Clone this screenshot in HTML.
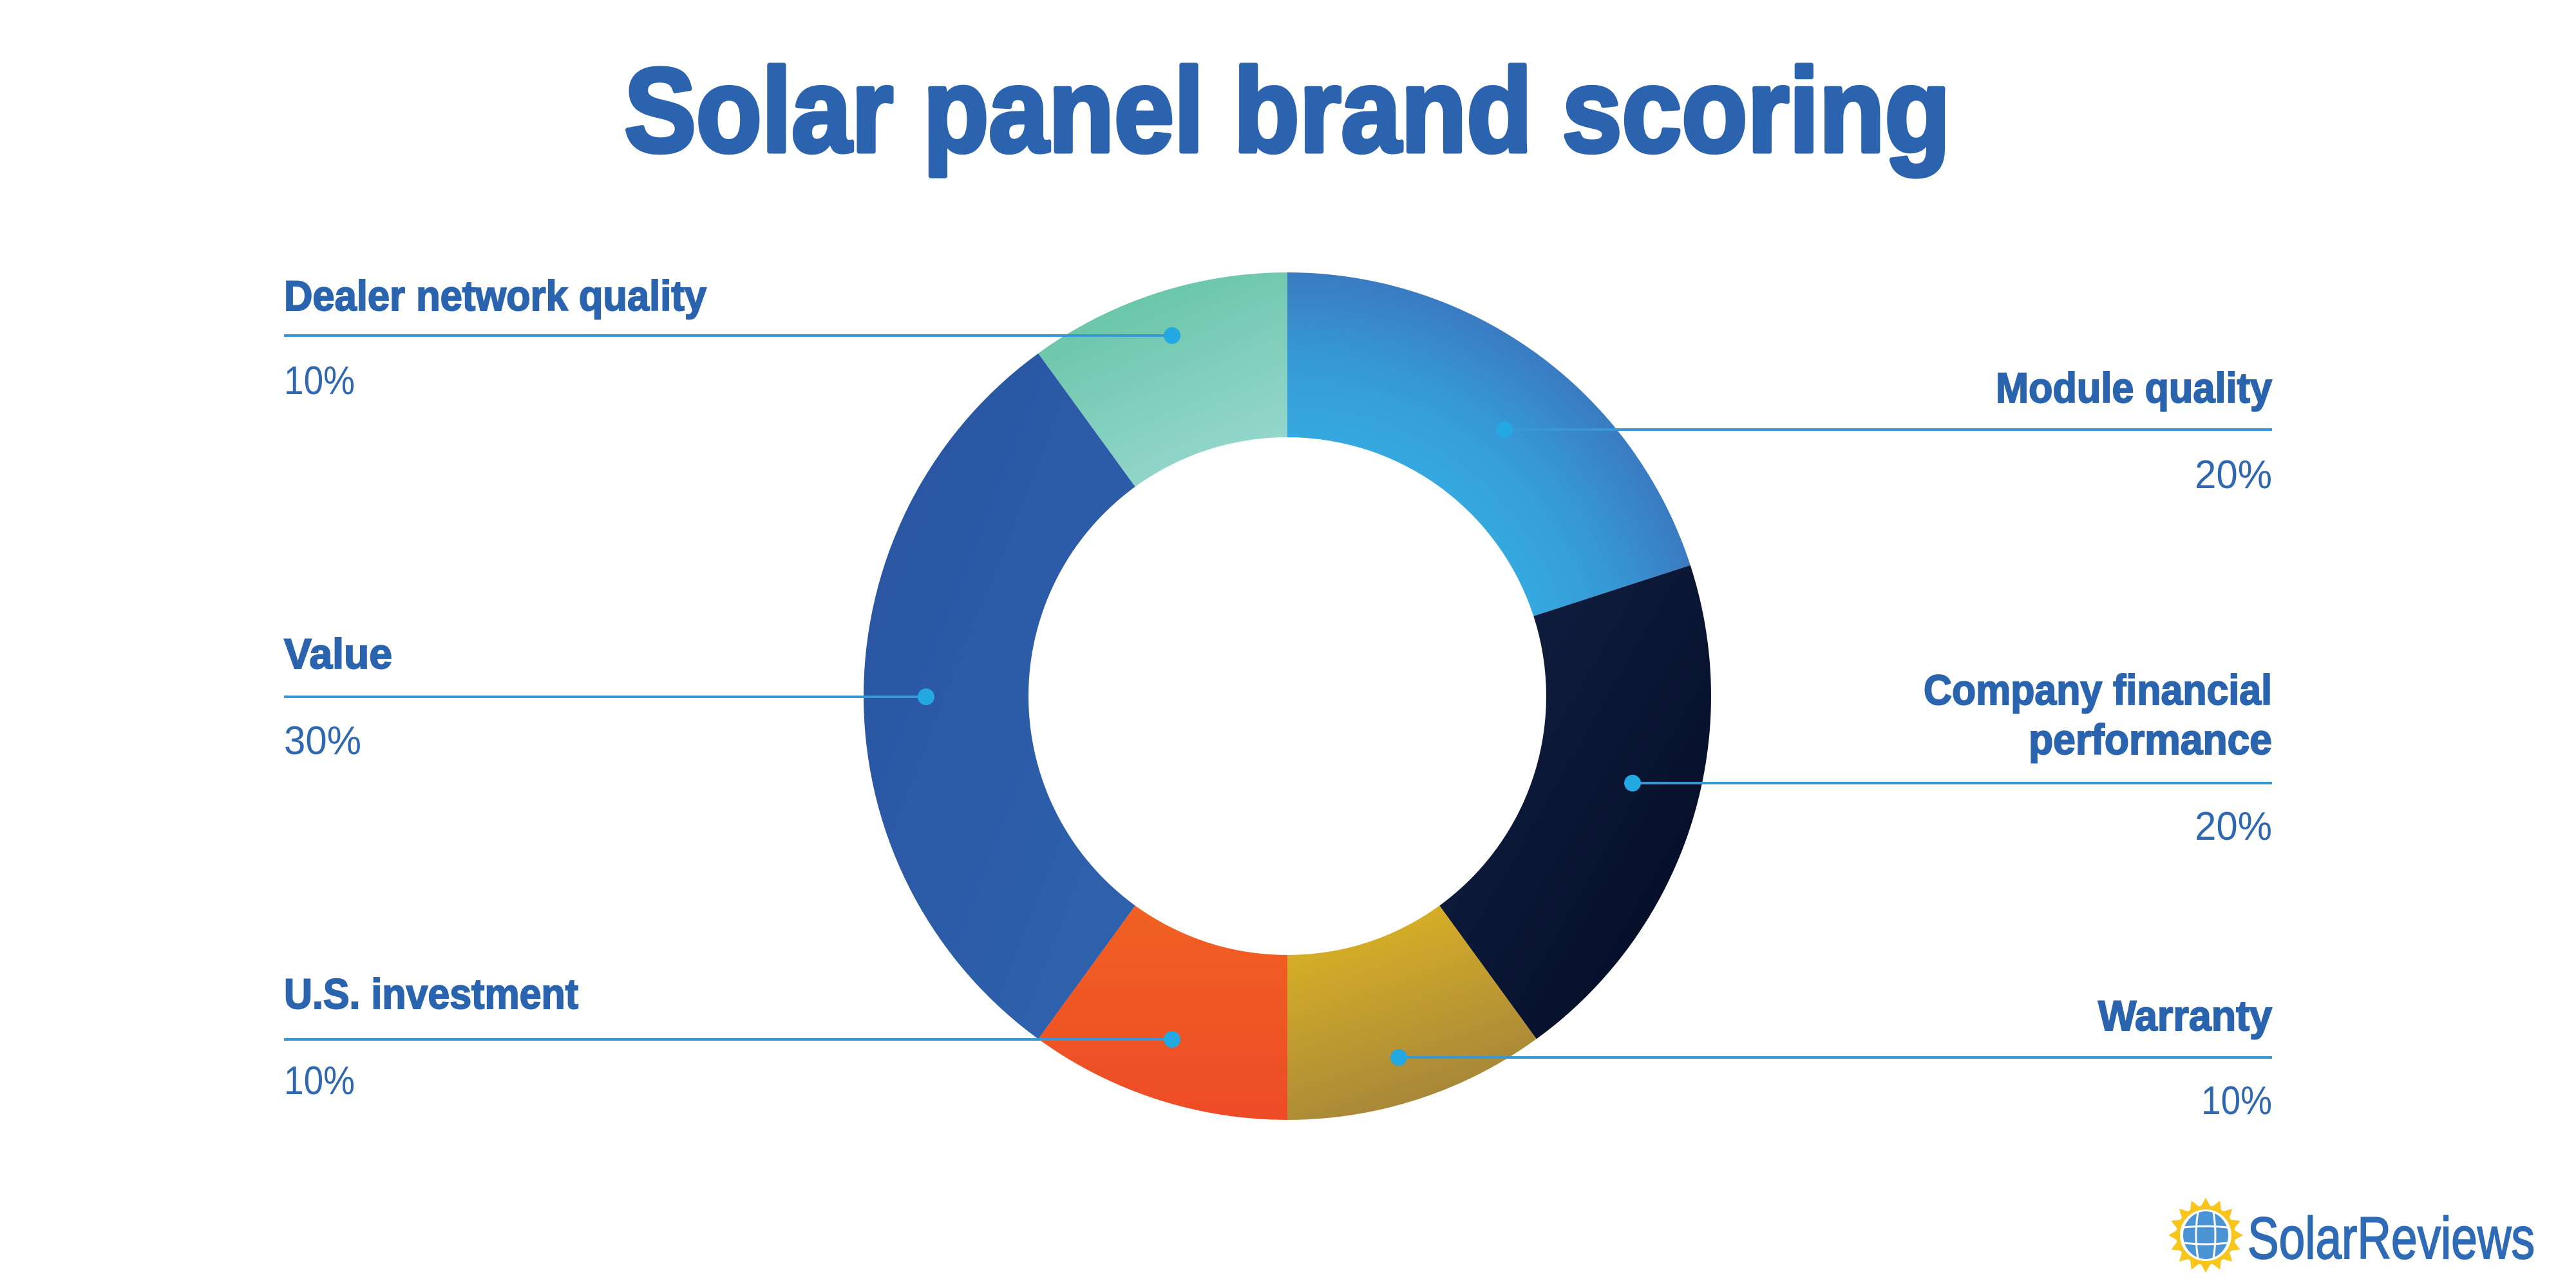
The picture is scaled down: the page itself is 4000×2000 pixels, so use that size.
<!DOCTYPE html>
<html><head><meta charset="utf-8"><style>html,body{margin:0;padding:0;background:#fff}svg{display:block}</style></head>
<body>
<svg width="4000" height="2000" viewBox="0 0 4000 2000" xmlns="http://www.w3.org/2000/svg">
<defs>
<radialGradient id="gM" cx="1999" cy="1081" r="658" gradientUnits="userSpaceOnUse"><stop offset="0.6" stop-color="#35aae0"/><stop offset="0.8" stop-color="#3699d6"/><stop offset="1" stop-color="#3a7bc2"/></radialGradient>
<linearGradient id="gC" x1="0" y1="0" x2="1" y2="1"><stop offset="0" stop-color="#132246"/><stop offset="1" stop-color="#020a22"/></linearGradient>
<linearGradient id="gW" x1="0" y1="0" x2="0.4" y2="1"><stop offset="0" stop-color="#e2b822"/><stop offset="1" stop-color="#a6863a"/></linearGradient>
<linearGradient id="gU" x1="0" y1="0" x2="0" y2="1"><stop offset="0" stop-color="#f06124"/><stop offset="1" stop-color="#ee4b26"/></linearGradient>
<linearGradient id="gV" x1="0" y1="0" x2="1" y2="1"><stop offset="0" stop-color="#2953a1"/><stop offset="1" stop-color="#2f63ae"/></linearGradient>
<linearGradient id="gD" x1="0" y1="0" x2="0.5" y2="1"><stop offset="0" stop-color="#5dc19e"/><stop offset="1" stop-color="#94d6cc"/></linearGradient>
</defs>

<text x="1999" y="235" text-anchor="middle" font-family="Liberation Sans, sans-serif" font-weight="bold" font-size="185" fill="#2c63ae" stroke="#2c63ae" stroke-width="7" stroke-linejoin="round" textLength="2059" lengthAdjust="spacingAndGlyphs">Solar panel brand scoring</text>

<path d="M1999,423 A658,658 0 0 1 2624.8,877.7 L2381.3,956.8 A402,402 0 0 0 1999,679 Z" fill="url(#gM)"/>
<path d="M2624.8,877.7 A658,658 0 0 1 2385.8,1613.3 L2235.3,1406.2 A402,402 0 0 0 2381.3,956.8 Z" fill="url(#gC)"/>
<path d="M2385.8,1613.3 A658,658 0 0 1 1999,1739 L1999,1483 A402,402 0 0 0 2235.3,1406.2 Z" fill="url(#gW)"/>
<path d="M1999,1739 A658,658 0 0 1 1612.2,1613.3 L1762.7,1406.2 A402,402 0 0 0 1999,1483 Z" fill="url(#gU)"/>
<path d="M1612.2,1613.3 A658,658 0 0 1 1612.2,548.7 L1762.7,755.8 A402,402 0 0 0 1762.7,1406.2 Z" fill="url(#gV)"/>
<path d="M1612.2,548.7 A658,658 0 0 1 1999,423 L1999,679 A402,402 0 0 0 1762.7,755.8 Z" fill="url(#gD)"/>

<g stroke="#3798d5" stroke-width="4">
<line x1="441" y1="521" x2="1820" y2="521"/>
<line x1="441" y1="1082" x2="1438" y2="1082"/>
<line x1="441" y1="1614" x2="1820" y2="1614"/>
<line x1="2336" y1="667" x2="3528" y2="667"/>
<line x1="2535" y1="1216" x2="3528" y2="1216"/>
<line x1="2172" y1="1642" x2="3528" y2="1642"/>
</g>
<g fill="#24a8e2">
<circle cx="1820" cy="521" r="13"/><circle cx="1438" cy="1082" r="13"/><circle cx="1820" cy="1614" r="13"/>
<circle cx="2336" cy="667" r="13"/><circle cx="2535" cy="1216" r="13"/><circle cx="2172" cy="1642" r="13"/>
</g>

<g font-family="Liberation Sans, sans-serif" font-weight="bold" font-size="66" fill="#2b64ae" stroke="#2b64ae" stroke-width="2">
<text x="441" y="482" textLength="656" lengthAdjust="spacingAndGlyphs">Dealer network quality</text>
<text x="441" y="1038" textLength="168" lengthAdjust="spacingAndGlyphs">Value</text>
<text x="441" y="1566" textLength="457" lengthAdjust="spacingAndGlyphs">U.S. investment</text>
<text x="3099" y="625" textLength="429" lengthAdjust="spacingAndGlyphs">Module quality</text>
<text x="2987" y="1094" textLength="541" lengthAdjust="spacingAndGlyphs">Company financial</text>
<text x="3150" y="1171" textLength="378" lengthAdjust="spacingAndGlyphs">performance</text>
<text x="3258" y="1600" textLength="270" lengthAdjust="spacingAndGlyphs">Warranty</text>
</g>
<g font-family="Liberation Sans, sans-serif" font-size="62" fill="#2f68b0">
<text x="441" y="612" textLength="110" lengthAdjust="spacingAndGlyphs">10%</text>
<text x="441" y="1171" textLength="120" lengthAdjust="spacingAndGlyphs">30%</text>
<text x="441" y="1699" textLength="110" lengthAdjust="spacingAndGlyphs">10%</text>
<text x="3408" y="758" textLength="120" lengthAdjust="spacingAndGlyphs">20%</text>
<text x="3408" y="1304" textLength="120" lengthAdjust="spacingAndGlyphs">20%</text>
<text x="3418" y="1730" textLength="110" lengthAdjust="spacingAndGlyphs">10%</text>
</g>

<g transform="translate(3425,1918)">
<g fill="#f7c51c">
<circle r="46"/>
<g id="ray"><polygon points="-9,-42 9,-42 0,-58"/></g>
<use href="#ray" transform="rotate(22.5)"/><use href="#ray" transform="rotate(45)"/><use href="#ray" transform="rotate(67.5)"/>
<use href="#ray" transform="rotate(90)"/><use href="#ray" transform="rotate(112.5)"/><use href="#ray" transform="rotate(135)"/>
<use href="#ray" transform="rotate(157.5)"/><use href="#ray" transform="rotate(180)"/><use href="#ray" transform="rotate(202.5)"/>
<use href="#ray" transform="rotate(225)"/><use href="#ray" transform="rotate(247.5)"/><use href="#ray" transform="rotate(270)"/>
<use href="#ray" transform="rotate(292.5)"/><use href="#ray" transform="rotate(315)"/><use href="#ray" transform="rotate(337.5)"/>
</g>
<circle r="40" fill="#fff"/>
<ellipse rx="35" ry="37" fill="#4a93d4"/>
<g stroke="#fff" stroke-width="3" fill="none">
<path d="M-12,-36 Q-18,0 -12,36"/><path d="M12,-36 Q18,0 12,36"/>
<path d="M-34,-12 Q0,-16 34,-12"/><path d="M-34,12 Q0,16 34,12"/>
</g>
</g>
<text x="3490" y="1954" font-family="Liberation Sans, sans-serif" font-size="92" fill="#2f6ab5" stroke="#2f6ab5" stroke-width="2" textLength="446" lengthAdjust="spacingAndGlyphs">SolarReviews</text>
</svg>
</body></html>
